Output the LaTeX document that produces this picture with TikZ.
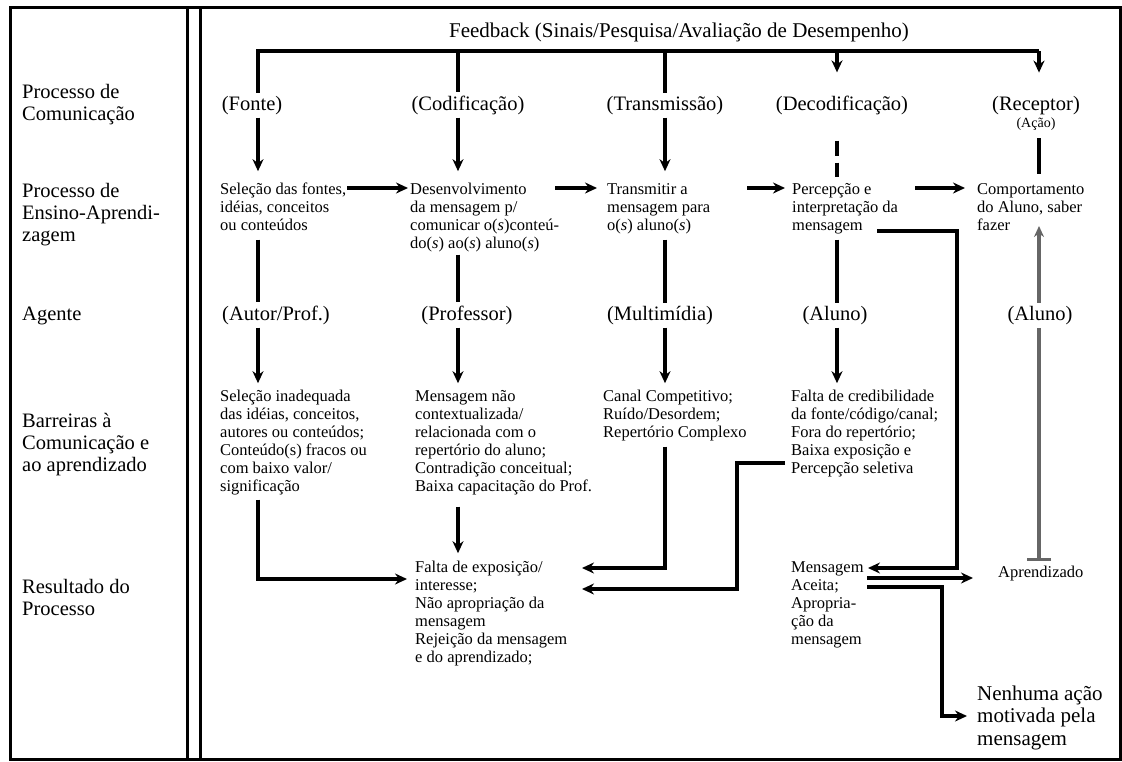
\documentclass[tikz,border=0pt]{standalone}
\usepackage{fontspec}
\setmainfont{Liberation Serif}
\usetikzlibrary{arrows.meta}
\newcommand\lns[1]{\begin{tabular}[t]{@{}l@{}}#1\end{tabular}}
\begin{document}
\begin{tikzpicture}[x=1pt,y=-1pt,
  framel/.style={line width=3pt, line cap=rect},
  bigt/.style={font=\fontsize{20.5}{22}\selectfont, inner sep=0pt, anchor=base west},
  hdr/.style={font=\fontsize{20.5}{22}\selectfont, inner sep=3pt, anchor=base},
  smallt/.style={font=\fontsize{16.5}{18}\selectfont, inner sep=0pt, anchor=base west},
  ln/.style={line width=3.4pt},
  arr/.style={line width=3.4pt, -{Stealth[length=12pt,width=11pt]}},
  gln/.style={line width=3.2pt, draw=black!60},
]
\useasboundingbox (0,0) rectangle (1122,761);
\fill[white] (0,0) rectangle (1122,761);
% frame
\draw[framel] (10,7) rectangle (1120,759);
\draw[framel] (187,7) -- (187,759);
\draw[framel] (200,7) -- (200,759);

% column guides
\coordinate (X1) at (258,0);
\coordinate (X2) at (458,0);
\coordinate (X3) at (665,0);
\coordinate (X4) at (837,0);
\coordinate (X5) at (1039,0);
\coordinate (F) at (0,51);

% left column labels
\node[bigt] (l1) at (22,98) {\lns{Processo de\\Comunicação}};
\node[bigt] (l2) at (22,197) {\lns{Processo de\\Ensino-Aprendi-\\zagem}};
\node[bigt] (l3) at (22,320) {Agente};
\node[bigt] (l4) at (22,427) {\lns{Barreiras à\\Comunicação e\\ao aprendizado}};
\node[bigt] (l5) at (22,593) {\lns{Resultado do\\Processo}};

% feedback
\node[font=\fontsize{21}{22}\selectfont, inner sep=0pt, anchor=base] (fb) at (679,37)
  {Feedback (Sinais/Pesquisa/Avaliação de Desempenho)};

% header row
\node[hdr] (hfon) at (252,110) {(Fonte)};
\node[hdr] (hcod) at (468,110) {(Codificação)};
\node[hdr] (htra) at (665,110) {(Transmissão)};
\node[hdr] (hdec) at (842,110) {(Decodificação)};
\node[hdr] (hrec) at (1036,110) {(Receptor)};
\node[font=\fontsize{14}{15}\selectfont, inner sep=0pt, anchor=base] (acao) at (1036,127) {(Ação)};

% row 2
\node[smallt] (sel) at (220,194) {\lns{Seleção das fontes,\\idéias, conceitos\\ou conteúdos}};
\node[smallt] (des) at (410,194) {\lns{Desenvolvimento\\da mensagem p/\\comunicar o(\textit{s})conteú-\\do(\textit{s}) ao(\textit{s}) aluno(\textit{s})}};
\node[smallt] (tra) at (607,194) {\lns{Transmitir a\\mensagem para\\o(\textit{s}) aluno(\textit{s})}};
\node[smallt] (per) at (792,194) {\lns{Percepção e\\interpretação da\\mensagem}};
\node[smallt] (com) at (977,194) {\lns{Comportamento\\do Aluno, saber\\fazer}};

% row 3
\node[hdr] (autor) at (276,320) {(Autor/Prof.)};
\node[hdr] (prof) at (467,320) {(Professor)};
\node[hdr] (multi) at (660,320) {(Multimídia)};
\node[hdr] (alu1) at (835,320) {(Aluno)};
\node[hdr] (alu2) at (1040,320) {(Aluno)};

% row 4
\node[smallt] (b1) at (220,401) {\lns{Seleção inadequada\\das idéias, conceitos,\\autores ou conteúdos;\\Conteúdo(s) fracos ou\\com baixo valor/\\significação}};
\node[smallt] (b2) at (415,401) {\lns{Mensagem não\\contextualizada/\\relacionada com o\\repertório do aluno;\\Contradição conceitual;\\Baixa capacitação do Prof.}};
\node[smallt] (b3) at (603,401) {\lns{Canal Competitivo;\\Ruído/Desordem;\\Repertório Complexo}};
\node[smallt] (b4) at (791,401) {\lns{Falta de credibilidade\\da fonte/código/canal;\\Fora do repertório;\\Baixa exposição e\\Percepção seletiva}};

% row 5
\node[smallt] (r1) at (415,572) {\lns{Falta de exposição/\\interesse;\\Não apropriação da\\mensagem\\Rejeição da mensagem\\e do aprendizado;}};
\node[smallt] (r2) at (791,572) {\lns{Mensagem\\Aceita;\\Apropria-\\ção da\\mensagem}};
\node[smallt] (apr) at (998,577) {Aprendizado};
\node[font=\fontsize{21}{22.5}\selectfont, inner sep=0pt, anchor=base west] (nen) at (977,700)
  {\lns{Nenhuma ação\\motivada pela\\mensagem}};

% feedback connectors
\draw[ln] (hfon.north -| X1) -- (X1 |- F) -- (X5 |- F);
\draw[ln] (X2 |- F) -- (hcod.north -| X2);
\draw[ln] (X3 |- F) -- (htra.north -| X3);
\draw[arr, shorten >=20pt] (X4 |- F) -- (hdec.north -| X4);
\draw[arr, shorten >=20pt] (X5 |- F) -- (hrec.north -| X5);

% header -> row 2
\draw[arr, shorten >=10pt] (hfon.south -| X1) -- (sel.north -| X1);
\draw[arr, shorten >=10pt] (hcod.south -| X2) -- (des.north -| X2);
\draw[arr, shorten >=10pt] (htra.south -| X3) -- (tra.north -| X3);
\draw[ln, dash pattern=on 15pt off 7pt, shorten <=23pt, shorten >=4pt] (hdec.south -| X4) -- (per.north -| X4);
\draw[ln, shorten <=8pt, shorten >=7pt] (acao.south -| X5) -- (com.north -| X5);

% row 2 horizontal arrows
\coordinate (a1s) at (347,188);
\coordinate (a2s) at (555,188);
\coordinate (a3s) at (747,188);
\coordinate (a4s) at (915,188);
\draw[arr, shorten >=2pt] (a1s) -- (des.west |- a1s);
\draw[arr, shorten >=10pt] (a2s) -- (tra.west |- a2s);
\draw[arr, shorten >=7pt] (a3s) -- (per.west |- a3s);
\draw[arr, shorten >=12pt] (a4s) -- (com.west |- a4s);

% row 2 -> row 3
\draw[ln, shorten <=4pt] (sel.south -| X1) -- (autor.north -| X1);
\draw[ln, shorten <=1pt] (des.south -| X2) -- (prof.north -| X2);
\draw[ln, shorten <=4pt] (tra.south -| X3) -- (multi.north -| X3);
\draw[ln, shorten <=4pt] (per.south -| X4) -- (alu1.north -| X4);

% row 3 -> row 4
\draw[arr, shorten >=5pt] (autor.south -| X1) -- (b1.north -| X1);
\draw[arr, shorten >=5pt] (prof.south -| X2) -- (b2.north -| X2);
\draw[arr, shorten >=5pt] (multi.south -| X3) -- (b3.north -| X3);
\draw[arr, shorten >=5pt] (alu1.south -| X4) -- (b4.north -| X4);

% row 4 -> row 5
\coordinate (Y1) at (0,579);
\draw[arr, shorten <=3pt, shorten >=8pt] (b1.south -| X1) -- (X1 |- Y1) -- (r1.west |- Y1);
\draw[arr, shorten <=10pt, shorten >=6pt] (b2.south -| X2) -- (r1.north -| X2);
\coordinate (t1) at (582,568);
\draw[arr, shorten <=4pt] (b3.south -| X3) -- (X3 |- t1) -- (t1);
\coordinate (k1) at (737,463);
\coordinate (t2) at (582,589);
\draw[arr, shorten <=6pt] (b4.west |- k1) -- (k1) -- (k1 |- t2) -- (t2);

% percepcao -> mensagem aceita
\coordinate (c5s) at (877,231);
\coordinate (k2) at (957,231);
\coordinate (t3) at (868,568);
\draw[arr] (c5s) -- (k2) -- (k2 |- t3) -- (t3);

% mensagem aceita -> aprendizado / nenhuma acao
\coordinate (c6s) at (867,578);
\draw[arr, shorten >=25pt] (c6s) -- (apr.west |- c6s);
\coordinate (c7s) at (867,587);
\coordinate (k3) at (942,716);
\draw[arr, shorten >=10pt] (c7s) -- (c7s -| k3) -- (k3) -- (nen.west |- k3);

% aprendizado -> comportamento (gray)
\coordinate (c8t) at (1039,226);
\draw[gln, {Bar[width=24pt]}-, shorten <=4pt] (apr.north -| X5) -- (alu2.south -| X5);
\draw[gln, -{Stealth[length=11pt,width=10pt]}] (alu2.north -| X5) -- (c8t);
\end{tikzpicture}
\end{document}
